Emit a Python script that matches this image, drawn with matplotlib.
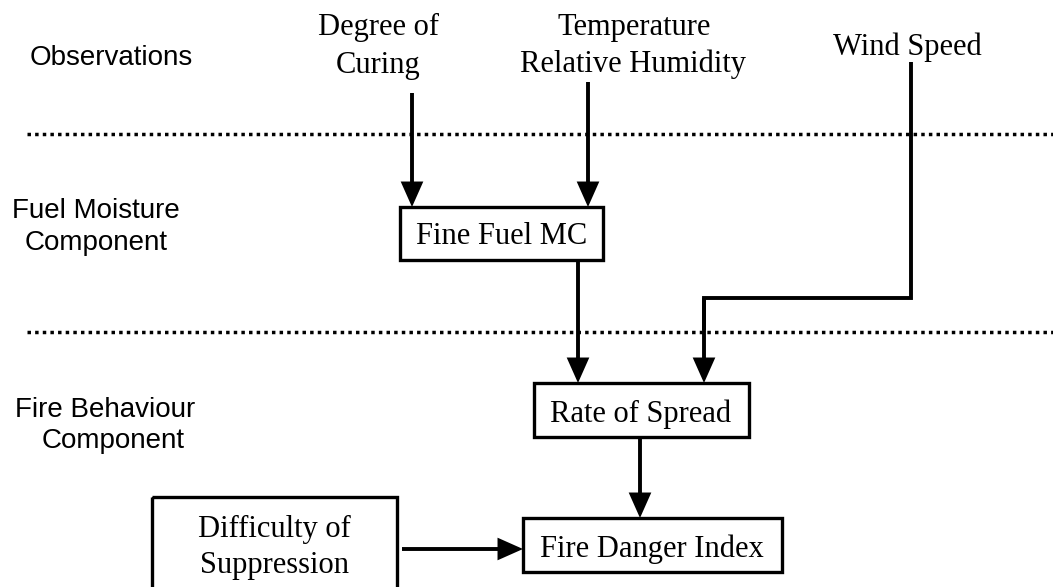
import matplotlib
matplotlib.use("Agg")
import matplotlib.pyplot as plt
from matplotlib.patches import Rectangle

# layer labels on the left (sans serif)
layer_labels = ["Observations", "Fuel Moisture", "Component",
                "Fire Behaviour", "Component"]
layer_xy = [(30, 65), (12, 218), (25, 250), (15, 417), (42, 448)]

# observation inputs (serif, no box)
obs_labels = ["Degree of", "Curing", "Temperature", "Relative Humidity", "Wind Speed"]
obs_xy = [(378, 35), (378, 73), (634, 35), (633, 72), (907, 55)]

# boxes: name, (x0, y0, x1, y1), text lines with baselines
boxes = {
    "Fine Fuel MC": (400, 207, 603, 260),
    "Rate of Spread": (534, 383, 749, 437),
    "Fire Danger Index": (523, 518, 782, 572),
    "Difficulty": (152, 497, 397, 600),
}
box_text = [("Fine Fuel MC", 502, 244), ("Rate of Spread", 641, 422),
            ("Fire Danger Index", 652, 557), ("Difficulty of", 274, 537),
            ("Suppression", 274, 573)]

# straight arrows: (start, end)
arrows = [((412, 93), (412, 207)), ((588, 82), (588, 207)),
          ((578, 260), (578, 383)), ((640, 437), (640, 518)),
          ((402, 549), (523, 549))]
# wind speed elbow connector
wind_path = [(911, 62), (911, 298), (704, 298), (704, 330)]
wind_end = (704, 383)

dotted_y = [134, 332]

fig = plt.figure(figsize=(10.53, 5.87), dpi=100)
ax = fig.add_axes([0, 0, 1, 1])
ax.set_xlim(0, 1053); ax.set_ylim(587, 0); ax.axis("off")

for y in dotted_y:
    ax.plot([27, 1053], [y, y], color="k", lw=2.5, linestyle=(0, (1.0, 1.2)))

for t, (x, y) in zip(layer_labels, layer_xy):
    ax.text(x, y, t, family="Liberation Sans", fontsize=20, ha="left", va="baseline")

for t, (x, y) in zip(obs_labels, obs_xy):
    ax.text(x, y, t, family="Liberation Serif", fontsize=22, ha="center", va="baseline")

for name, (x0, y0, x1, y1) in boxes.items():
    ax.add_patch(Rectangle((x0, y0), x1 - x0, y1 - y0, fill=False, ec="k", lw=2.4,
                           joinstyle="miter", clip_on=True))

for t, x, y in box_text:
    ax.text(x, y, t, family="Liberation Serif", fontsize=22, ha="center", va="baseline")

aprops = dict(arrowstyle="-|>,head_length=0.9,head_width=0.4", color="k", lw=2.8,
              mutation_scale=15, shrinkA=0, shrinkB=0, joinstyle="miter", capstyle="butt")
for s, e in arrows:
    ax.annotate("", xy=e, xytext=s, arrowprops=aprops)

wx, wy = zip(*wind_path)
ax.plot(wx, wy, color="k", lw=2.8, solid_joinstyle="miter", solid_capstyle="butt")
ax.annotate("", xy=wind_end, xytext=wind_path[-2], arrowprops=aprops)

fig.savefig("out.png", dpi=100)
